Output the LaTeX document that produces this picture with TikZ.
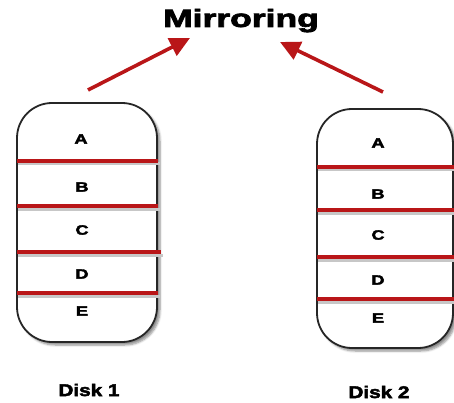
\documentclass[tikz,border=0pt]{standalone}
\usepackage{fontspec}
\setmainfont{Liberation Sans}[BoldFeatures={FakeBold=2.5}]
\usetikzlibrary{arrows.meta,shadows.blur}
\definecolor{dred}{RGB}{185,22,24}
\begin{document}
\begin{tikzpicture}[x=1pt,y=-1pt,
  disk/.style={draw=black!85,line width=1.8pt,fill=white,rounded corners=35pt,inner sep=0pt,
    blur shadow={shadow xshift=3pt,shadow yshift=-3pt,shadow blur steps=6,shadow opacity=45}},
  sep/.style={draw=dred,line width=3.4pt},
  sepshadow/.style={draw=black!22,line width=3pt},
  letter/.style={font=\fontsize{13.5}{15}\selectfont\bfseries,xscale=1.35,inner sep=0pt},
  disklabel/.style={font=\fontsize{17}{20}\selectfont\bfseries,xscale=1.22,inner sep=0pt},
  arr/.style={draw=dred,line width=3.6pt,-{Triangle[length=20pt,width=19pt]}}]
\useasboundingbox (0,0) rectangle (454,403);
% title
\node[font=\fontsize{25}{28}\selectfont\bfseries,xscale=1.42,inner sep=0pt,anchor=base] (title) at (241,27) {Mirroring};
% disks
\node[disk,minimum width=140pt,minimum height=239pt] (d1) at (87,222.5) {};
\node[disk,minimum width=136pt,minimum height=239pt] (d2) at (385,228.5) {};
% separators disk 1
\foreach \yy/\xe in {161/158,206/158,252/161,293/158}{
  \draw[sepshadow] (18,\yy+3) -- (\xe+2,\yy+3);
  \draw[sep] (17,\yy) -- (\xe,\yy);
}
% separators disk 2
\foreach \yy in {167,210,257,299}{
  \draw[sepshadow] (318,\yy+3) -- (454,\yy+3);
  \draw[sep] (317,\yy) -- (454,\yy);
}
% letters disk 1
\node[letter] (a1) at (81,139) {A};
\node[letter] (b1) at (82,187) {B};
\node[letter] (c1) at (82,230) {C};
\node[letter] (e1) at (82,274) {D};
\node[letter] (f1) at (82,311) {E};
% letters disk 2
\node[letter] (a2) at (378,143) {A};
\node[letter] (b2) at (378,194) {B};
\node[letter] (c2) at (378,235) {C};
\node[letter] (e2) at (378,280) {D};
\node[letter] (f2) at (378,318) {E};
% captions
\node[disklabel] (k1) at (89,390) {Disk 1};
\node[disklabel] (k2) at (379,392) {Disk 2};
% arrows
\coordinate (s1) at (88,90);
\coordinate (t1) at (190,38);
\coordinate (s2) at (383,92);
\coordinate (t2) at (280,42);
\draw[arr] (s1) -- (t1);
\draw[arr] (s2) -- (t2);
\end{tikzpicture}
\end{document}
